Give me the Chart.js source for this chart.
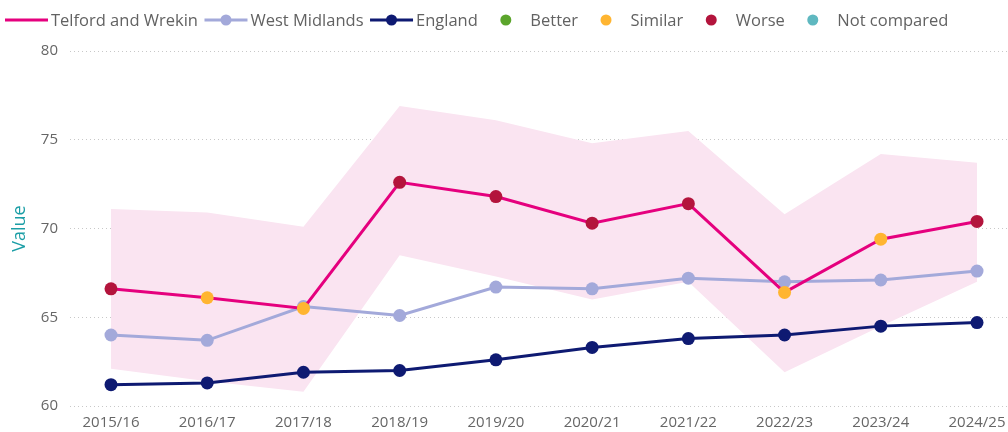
<!DOCTYPE html>
<html>
<head>
<meta charset="utf-8">
<title>Telford and Wrekin trend</title>
<script src="https://cdn.jsdelivr.net/npm/chart.js@4.4.1/dist/chart.umd.min.js"></script>
<style>
  html, body { margin: 0; padding: 0; background: #fff; }
  #chart { display: block; }
</style>
</head>
<body>
<canvas id="chart" width="1008" height="432"></canvas>
<script>
const periods = ['2015/16', '2016/17', '2017/18', '2018/19', '2019/20', '2020/21', '2021/22', '2022/23', '2023/24', '2024/25'];
const telford = [66.6, 66.1, 65.5, 72.6, 71.8, 70.3, 71.4, 66.4, 69.4, 70.4];
const westMidlands = [64.0, 63.7, 65.6, 65.1, 66.7, 66.6, 67.2, 67.0, 67.1, 67.6];
const england = [61.2, 61.3, 61.9, 62.0, 62.6, 63.3, 63.8, 64.0, 64.5, 64.7];
const ciUpper = [71.1, 70.9, 70.1, 76.9, 76.1, 74.8, 75.5, 70.8, 74.2, 73.7];
const ciLower = [62.1, 61.4, 60.8, 68.5, 67.3, 66.0, 67.0, 61.9, 64.5, 67.0];
const telfordCompare = ['Worse', 'Similar', 'Similar', 'Worse', 'Worse', 'Worse', 'Worse', 'Similar', 'Similar', 'Worse'];
const yTicks = [60, 65, 70, 75, 80];

const PINK = '#e5007e';
const LAVENDER = '#a3a9da';
const NAVY = '#0e1a72';
const BAND = '#fae4f1';
const compareColours = {
  Better: '#5ba52c',
  Similar: '#ffb531',
  Worse: '#b3143c',
  'Not compared': '#5fb8c0',
};

const FONT = '"Segoe UI", "Open Sans", "Noto Sans", sans-serif';
Chart.defaults.font.family = FONT;

const toPoints = (values) => values.map((v, i) => ({ x: i, y: v }));

// legend drawn across the top like the Power BI one (line + marker + text)
const legendItems = [
  { label: 'Telford and Wrekin', color: PINK, line: true, dot: false },
  { label: 'West Midlands', color: LAVENDER, line: true, dot: true },
  { label: 'England', color: NAVY, line: true, dot: true },
  ...Object.keys(compareColours).map(k => ({ label: k, color: compareColours[k], line: false, dot: true })),
];

const topLegend = {
  id: 'topLegend',
  afterDraw(chart) {
    const ctx = chart.ctx;
    const y = 20;
    let x = 5;
    ctx.save();
    ctx.font = '16.5px ' + FONT;
    ctx.textBaseline = 'middle';
    legendItems.forEach(item => {
      if (item.line) {
        ctx.strokeStyle = item.color;
        ctx.lineWidth = 3;
        ctx.beginPath();
        ctx.moveTo(x, y);
        ctx.lineTo(x + 43, y);
        ctx.stroke();
      }
      if (item.dot) {
        ctx.fillStyle = item.color;
        ctx.beginPath();
        ctx.arc(x + 21.5, y, 5.5, 0, Math.PI * 2);
        ctx.fill();
      }
      ctx.fillStyle = '#626262';
      ctx.fillText(item.label, x + 46, y + 1);
      x += 46 + ctx.measureText(item.label).width + 6.5;
    });
    ctx.restore();
  },
};

new Chart(document.getElementById('chart'), {
  type: 'line',
  data: {
    datasets: [
      {
        label: 'Telford and Wrekin',
        data: toPoints(telford),
        borderColor: PINK,
        borderWidth: 3,
        pointRadius: 6.5,
        pointBorderWidth: 0,
        pointBackgroundColor: telfordCompare.map(c => compareColours[c]),
        fill: false,
        order: 0,
      },
      {
        label: 'West Midlands',
        data: toPoints(westMidlands),
        borderColor: LAVENDER,
        borderWidth: 3,
        pointRadius: 6.5,
        pointBorderWidth: 0,
        pointBackgroundColor: LAVENDER,
        fill: false,
        order: 1,
      },
      {
        label: 'England',
        data: toPoints(england),
        borderColor: NAVY,
        borderWidth: 3,
        pointRadius: 6.5,
        pointBorderWidth: 0,
        pointBackgroundColor: NAVY,
        fill: false,
        order: 2,
      },
      {
        label: 'Upper CI',
        data: toPoints(ciUpper),
        borderWidth: 0,
        borderColor: 'rgba(0,0,0,0)',
        pointRadius: 0,
        backgroundColor: BAND,
        fill: '+1',
        order: 10,
      },
      {
        label: 'Lower CI',
        data: toPoints(ciLower),
        borderWidth: 0,
        borderColor: 'rgba(0,0,0,0)',
        pointRadius: 0,
        fill: false,
        order: 11,
      },
    ],
  },
  options: {
    responsive: false,
    animation: false,
    layout: {
      autoPadding: false, // otherwise the point radius eats into the right edge
      padding: { top: 51, left: 8, right: 0, bottom: 0 },
    },
    plugins: {
      legend: { display: false },
      tooltip: { enabled: false },
    },
    scales: {
      x: {
        type: 'linear',
        min: -0.426,
        max: 9.322,
        grid: { display: false },
        border: { display: false },
        afterBuildTicks: (axis) => {
          axis.ticks = periods.map((p, i) => ({ value: i }));
        },
        afterFit: (axis) => {
          axis.height = 26;
          axis.paddingLeft = 0;
          axis.paddingRight = 0;
        },
        ticks: {
          color: '#666666',
          font: { size: 15 },
          padding: 0,
          maxRotation: 0,
          autoSkip: false,
          callback: (value) => periods[value],
        },
      },
      y: {
        min: yTicks[0],
        max: yTicks[yTicks.length - 1],
        afterBuildTicks: (axis) => {
          axis.ticks = yTicks.map(v => ({ value: v }));
        },
        afterFit: (axis) => {
          axis.width = 62;
        },
        grid: {
          color: '#c8c8c8',
          lineWidth: 1,
          drawTicks: false,
        },
        border: { display: false, dash: [1, 3] },
        ticks: {
          color: '#666666',
          font: { size: 15 },
          padding: 12,
        },
        title: {
          display: true,
          text: 'Value',
          color: '#1b9ea6',
          font: { size: 18 },
          padding: { top: 1, bottom: 0 },
        },
      },
    },
  },
  plugins: [topLegend],
});
</script>
</body>
</html>
